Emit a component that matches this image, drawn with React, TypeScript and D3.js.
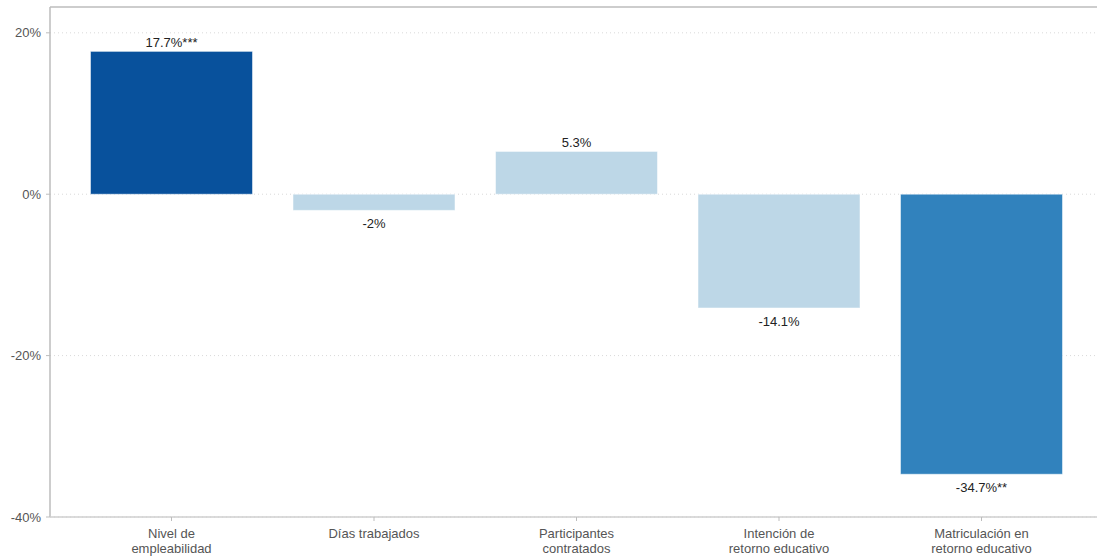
import React from "react";
import * as d3 from "d3";

const categories: string[][] = [
  ["Nivel de", "empleabilidad"],
  ["Días trabajados"],
  ["Participantes", "contratados"],
  ["Intención de", "retorno educativo"],
  ["Matriculación en", "retorno educativo"],
];
const values: number[] = [17.7, -2, 5.3, -14.1, -34.7];
const stars: string[] = ["***", "", "", "", "**"];
const barColors: string[] = ["#08519c", "#bdd7e7", "#bdd7e7", "#bdd7e7", "#3182bd"];
const yTicks: number[] = [20, 0, -20, -40];

const W = 1097;
const H = 559;
const left = 50;
const top = 7;
const bottom = 517;

export default function App() {
  const x = d3
    .scaleBand<number>()
    .domain(values.map((_, i) => i))
    .range([left, 1103])
    .paddingInner(0.2)
    .paddingOuter(0.2);
  const y = d3.scaleLinear().domain([-40, 23.2]).range([bottom, top]);
  const font = "'Liberation Sans', Arial, sans-serif";

  return (
    <svg
      width={W}
      height={H}
      style={{ position: "absolute", left: 0, top: 0, background: "#fff" }}
      fontFamily={font}
    >
      {/* gridlines */}
      {yTicks.map((t) => (
        <line
          key={"g" + t}
          x1={left}
          x2={W}
          y1={y(t)}
          y2={y(t)}
          stroke="#d9d9d9"
          strokeWidth={1}
          strokeDasharray="1,3"
        />
      ))}
      {/* bars */}
      {values.map((v, i) => (
        <rect
          key={"b" + i}
          x={x(i)!}
          width={x.bandwidth()}
          y={Math.min(y(v), y(0))}
          height={Math.abs(y(v) - y(0))}
          fill={barColors[i]}
          stroke="#fff"
          strokeOpacity={0.5}
          strokeWidth={1}
        />
      ))}
      {/* value labels */}
      {values.map((v, i) => (
        <text
          key={"v" + i}
          x={x(i)! + x.bandwidth() / 2}
          y={v >= 0 ? y(v) - 4 : y(v) + 18}
          textAnchor="middle"
          fontSize={13}
          fill="#222"
        >
          {`${v}%${stars[i]}`}
        </text>
      ))}
      {/* frame */}
      <line x1={left} x2={W} y1={top} y2={top} stroke="#bdbdbd" strokeWidth={1.5} />
      <line x1={left} x2={left} y1={top} y2={bottom} stroke="#bdbdbd" strokeWidth={1.5} />
      <line x1={left} x2={W} y1={bottom} y2={bottom} stroke="#cfcfcf" strokeWidth={1.5} />
      {/* y ticks */}
      {yTicks.map((t) => (
        <g key={"yt" + t}>
          <line x1={left - 4} x2={left} y1={y(t)} y2={y(t)} stroke="#bdbdbd" />
          <text
            x={41}
            y={y(t) + 4.5}
            textAnchor="end"
            fontSize={13}
            fill="#555"
          >
            {`${t}%`}
          </text>
        </g>
      ))}
      {/* x ticks */}
      {categories.map((c, i) => {
        const cx = x(i)! + x.bandwidth() / 2;
        return (
          <g key={"xt" + i}>
            <line x1={cx} x2={cx} y1={bottom} y2={bottom + 4} stroke="#bdbdbd" />
            {c.map((line, j) => (
              <text
                key={j}
                x={cx}
                y={538 + j * 15}
                textAnchor="middle"
                fontSize={13}
                fill="#555"
              >
                {line}
              </text>
            ))}
          </g>
        );
      })}
    </svg>
  );
}
